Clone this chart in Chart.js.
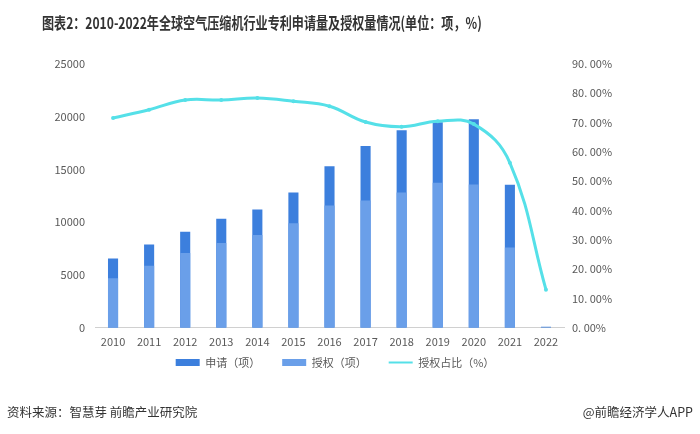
<!DOCTYPE html>
<html>
<head>
<meta charset="utf-8">
<script src="https://cdn.jsdelivr.net/npm/chart.js@4/dist/chart.umd.min.js"></script>
<style>
  body { margin: 0; background: #fff; }
  #wrap { position: relative; width: 700px; height: 434px; overflow: hidden; }
  #title {
    position: absolute; left: 42px; top: 10px; white-space: nowrap;
    font-family: "Noto Sans CJK SC", sans-serif; font-weight: bold; font-size: 16px;
    color: #333; transform-origin: 0 0; transform: scaleX(0.755);
  }
  .foot {
    position: absolute; top: 402px; font-family: "Noto Sans CJK SC", sans-serif;
    font-size: 12.5px; color: #333; white-space: nowrap;
  }
  #src { left: 7px; }
  #app { right: 7px; }
  #chart { position: absolute; left: 0; top: 0; }
</style>
</head>
<body>
<div id="wrap">
  <canvas id="chart" width="700" height="404"></canvas>
  <div id="title">图表2：2010-2022年全球空气压缩机行业专利申请量及授权量情况(单位：项，%)</div>
  <div class="foot" id="src">资料来源：智慧芽 前瞻产业研究院</div>
  <div class="foot" id="app">@前瞻经济学人APP</div>
</div>
<script>
const years = ["2010", "2011", "2012", "2013", "2014", "2015", "2016", "2017", "2018", "2019", "2020", "2021", "2022"];
const applications = [6560, 7900, 9100, 10340, 11200, 12820, 15320, 17220, 18720, 19480, 19760, 13550, 100];
const grants = [4700, 5870, 7080, 8030, 8790, 9900, 11580, 12060, 12820, 13740, 13580, 7610, 13];
const grantRatio = [71.6, 74.4, 77.7, 77.7, 78.4, 77.3, 75.6, 70.2, 68.6, 70.5, 69.5, 56.3, 13.0];
const leftTicks = [0, 5000, 10000, 15000, 20000, 25000];
const rightTicks = [0, 10, 20, 30, 40, 50, 60, 70, 80, 90];

const tickFont = { family: "'Noto Sans CJK SC', 'DejaVu Sans', sans-serif", size: 11 };
const gray = "#595959";

// pull the legend up closer to the axis labels
const legendNudge = {
  id: "legendNudge",
  afterLayout(chart) {
    chart.legend.top -= 20;
    chart.legend.bottom -= 20;
  }
};

document.addEventListener("DOMContentLoaded", () => {
  const ctx = document.getElementById("chart").getContext("2d");
  new Chart(ctx, {
    data: {
      labels: years,
      datasets: [
        {
          type: "line",
          label: "授权占比（%）",
          data: grantRatio,
          yAxisID: "y1",
          borderColor: "#55E0E8",
          backgroundColor: "#55E0E8",
          borderWidth: 3,
          pointRadius: 2,
          pointBorderWidth: 0,
          tension: 0.4,
          order: 0
        },
        {
          type: "bar",
          label: "申请（项）",
          data: applications,
          yAxisID: "y",
          backgroundColor: "#3C7FDD",
          barPercentage: 0.28,
          categoryPercentage: 1,
          grouped: false,
          order: 2
        },
        {
          type: "bar",
          label: "授权（项）",
          data: grants,
          yAxisID: "y",
          backgroundColor: "#6A9FE9",
          barPercentage: 0.28,
          categoryPercentage: 1,
          grouped: false,
          order: 1
        }
      ]
    },
    plugins: [legendNudge],
    options: {
      responsive: false,
      animation: false,
      layout: { padding: { left: 0, right: 30, top: 64, bottom: 6 } },
      plugins: {
        tooltip: { enabled: false },
        legend: {
          position: "bottom",
          labels: {
            color: gray,
            font: tickFont,
            usePointStyle: true,
            pointStyleWidth: 24,
            boxHeight: 7,
            padding: 22,
            sort: (a, b) => {
              const rank = { "申请（项）": 0, "授权（项）": 1, "授权占比（%）": 2 };
              return rank[a.text] - rank[b.text];
            },
            generateLabels: chart => {
              return chart.data.datasets.map((ds, i) => ({
                text: ds.label,
                fillStyle: ds.backgroundColor,
                strokeStyle: ds.type === "line" ? ds.borderColor : ds.backgroundColor,
                lineWidth: ds.type === "line" ? 2 : 0,
                pointStyle: ds.type === "line" ? "line" : "rect",
                fontColor: gray,
                datasetIndex: i
              }));
            }
          }
        }
      },
      scales: {
        x: {
          grid: { display: false, drawTicks: false },
          border: { display: true, color: "#D0D0D0" },
          ticks: { color: gray, font: tickFont, padding: 7 }
        },
        y: {
          position: "left",
          min: 0,
          max: 25000,
          afterBuildTicks: scale => { scale.ticks = leftTicks.map(v => ({ value: v })); },
          afterFit: scale => { scale.width = 95; },
          grid: { display: false, drawTicks: false },
          border: { display: false },
          ticks: { color: gray, font: tickFont, padding: 10, callback: v => String(v) }
        },
        y1: {
          position: "right",
          min: 0,
          max: 90,
          afterBuildTicks: scale => { scale.ticks = rightTicks.map(v => ({ value: v })); },
          afterFit: scale => { scale.width = 106; },
          grid: { display: false, drawTicks: false },
          border: { display: false },
          ticks: {
            color: gray,
            font: tickFont,
            padding: 8,
            callback: v => v.toFixed(2).replace(".", ". ") + "%"
          }
        }
      }
    }
  });
});
</script>
</body>
</html>
